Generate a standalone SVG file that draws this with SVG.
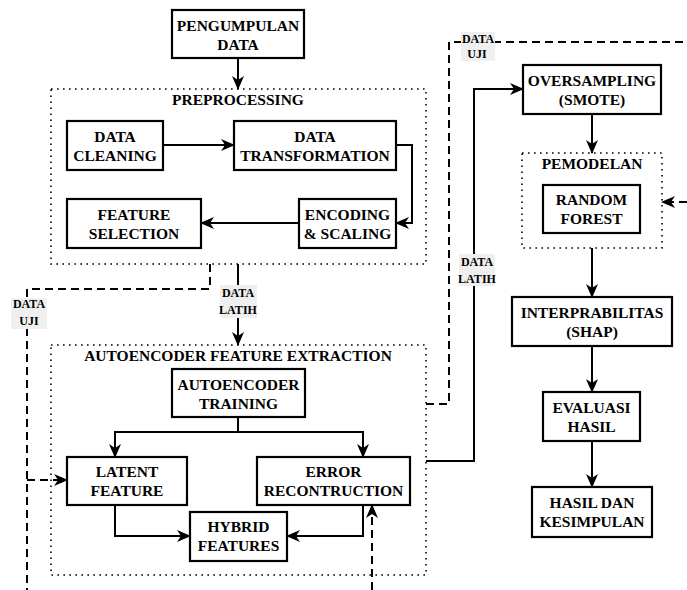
<svg xmlns="http://www.w3.org/2000/svg" width="687" height="590" viewBox="0 0 687 590" font-family="'Times New Roman', 'Liberation Serif', 'DejaVu Serif', serif">
<defs>
<marker id="ah" markerUnits="userSpaceOnUse" markerWidth="14" markerHeight="12" viewBox="0 0 14 12" refX="13" refY="6" orient="auto">
<path d="M0,0 L14,6 L0,12 L4,6 Z" fill="#000"/>
</marker>
</defs>
<style>
.box{fill:#fff;stroke:#000;stroke-width:2.2}
.grp{fill:none;stroke:#000;stroke-width:1.6;stroke-dasharray:1.6 4.4}
text{font-weight:bold;text-anchor:middle;fill:#000}
.t{font-size:15.5px}
.l{font-size:12px}
.lb{fill:#efefef}
.c{fill:none;stroke:#000;stroke-width:2}
.d{fill:none;stroke:#000;stroke-width:2;stroke-dasharray:8 5}
</style>
<rect width="687" height="590" fill="#fff"/>

<g id="group-preprocessing">
<rect class="grp" x="51" y="89" width="375" height="175"/>
<text class="t" x="238" y="105">PREPROCESSING</text>
</g>
<g id="group-autoencoder">
<rect class="grp" x="51" y="345" width="375" height="230"/>
<text class="t" x="238" y="361">AUTOENCODER FEATURE EXTRACTION</text>
</g>
<g id="group-pemodelan">
<rect class="grp" x="522" y="153" width="140" height="95"/>
<text class="t" x="592" y="169">PEMODELAN</text>
</g>

<g id="connectors">
<path class="c" d="M238,58 V89" marker-end="url(#ah)"/>
<path class="c" d="M163,145 H234" marker-end="url(#ah)"/>
<path class="c" d="M396,145 H412 V223 H396" marker-end="url(#ah)"/>
<path class="c" d="M299,223 H201" marker-end="url(#ah)"/>
<path class="c" d="M238,264 V345" marker-end="url(#ah)"/>
<path class="d" d="M210,264 V289 H27 V590"/>
<path class="d" d="M27,480 H67" marker-end="url(#ah)"/>
<path class="c" d="M238,417 V432 H115 V457" marker-end="url(#ah)"/>
<path class="c" d="M238,432 H363 V457" marker-end="url(#ah)"/>
<path class="c" d="M115,505 V536 H190" marker-end="url(#ah)"/>
<path class="c" d="M363,505 V536 H287" marker-end="url(#ah)"/>
<path class="d" d="M372,590 V505" marker-end="url(#ah)"/>
<path class="c" d="M426,461 H474 V89 H523" marker-end="url(#ah)"/>
<path class="d" d="M426,404 H449 V42 H687"/>
<path class="d" d="M687,202 H662" marker-end="url(#ah)"/>
<path class="c" d="M592,114 V153" marker-end="url(#ah)"/>
<path class="c" d="M592,248 V297" marker-end="url(#ah)"/>
<path class="c" d="M592,346 V392" marker-end="url(#ah)"/>
<path class="c" d="M592,441 V487" marker-end="url(#ah)"/>
<g id="label-latih-1">
<rect class="lb" x="220" y="285" width="37" height="33"/>
<text class="l" x="238" y="297">DATA</text>
<text class="l" x="238" y="314">LATIH</text>
</g>
<g id="label-uji-1">
<rect class="lb" x="11" y="298" width="36" height="31"/>
<text class="l" x="29" y="308">DATA</text>
<text class="l" x="29" y="325">UJI</text>
</g>
<g id="label-latih-2">
<rect class="lb" x="459" y="254" width="36" height="32"/>
<text class="l" x="477" y="266">DATA</text>
<text class="l" x="477" y="282.5">LATIH</text>
</g>
<g id="label-uji-2">
<rect class="lb" x="461" y="32" width="34" height="29"/>
<text class="l" x="478" y="43">DATA</text>
<text class="l" x="477" y="57.5">UJI</text>
</g>
</g>

<g id="pengumpulan">
<rect class="box" x="172" y="10" width="132" height="48"/>
<text class="t" x="238" y="30.5">PENGUMPULAN</text>
<text class="t" x="238" y="49.5">DATA</text>
</g>
<g id="data-cleaning">
<rect class="box" x="67" y="121" width="96" height="49"/>
<text class="t" x="115" y="142">DATA</text>
<text class="t" x="115" y="161">CLEANING</text>
</g>
<g id="data-transformation">
<rect class="box" x="234" y="121" width="162" height="49"/>
<text class="t" x="315" y="142">DATA</text>
<text class="t" x="315" y="161">TRANSFORMATION</text>
</g>
<g id="feature-selection">
<rect class="box" x="67" y="199" width="134" height="49"/>
<text class="t" x="134" y="220">FEATURE</text>
<text class="t" x="134" y="238.5">SELECTION</text>
</g>
<g id="encoding-scaling">
<rect class="box" x="299" y="199" width="97" height="49"/>
<text class="t" x="347.5" y="220">ENCODING</text>
<text class="t" x="347.5" y="238.5">&amp; SCALING</text>
</g>
<g id="autoencoder-training">
<rect class="box" x="172" y="369" width="133" height="48"/>
<text class="t" x="238.5" y="390">AUTOENCODER</text>
<text class="t" x="238.5" y="408.5">TRAINING</text>
</g>
<g id="latent-feature">
<rect class="box" x="67" y="457" width="120" height="48"/>
<text class="t" x="127" y="477">LATENT</text>
<text class="t" x="127" y="496">FEATURE</text>
</g>
<g id="error-reconstruction">
<rect class="box" x="257" y="457" width="153" height="48"/>
<text class="t" x="333.5" y="477">ERROR</text>
<text class="t" x="333.5" y="496">RECONTRUCTION</text>
</g>
<g id="hybrid-features">
<rect class="box" x="190" y="512" width="97" height="49"/>
<text class="t" x="238.5" y="532">HYBRID</text>
<text class="t" x="238.5" y="551">FEATURES</text>
</g>
<g id="oversampling">
<rect class="box" x="523" y="65" width="138" height="49"/>
<text class="t" x="592" y="86">OVERSAMPLING</text>
<text class="t" x="592" y="105">(SMOTE)</text>
</g>
<g id="random-forest">
<rect class="box" x="543" y="185" width="97" height="48"/>
<text class="t" x="591.5" y="205">RANDOM</text>
<text class="t" x="591.5" y="224">FOREST</text>
</g>
<g id="interprabilitas">
<rect class="box" x="512" y="297" width="160" height="49"/>
<text class="t" x="592" y="318">INTERPRABILITAS</text>
<text class="t" x="592" y="337">(SHAP)</text>
</g>
<g id="evaluasi">
<rect class="box" x="543" y="392" width="97" height="49"/>
<text class="t" x="591.5" y="413">EVALUASI</text>
<text class="t" x="591.5" y="432">HASIL</text>
</g>
<g id="hasil">
<rect class="box" x="532" y="487" width="120" height="50"/>
<text class="t" x="592" y="508">HASIL DAN</text>
<text class="t" x="592" y="527">KESIMPULAN</text>
</g>
</svg>
